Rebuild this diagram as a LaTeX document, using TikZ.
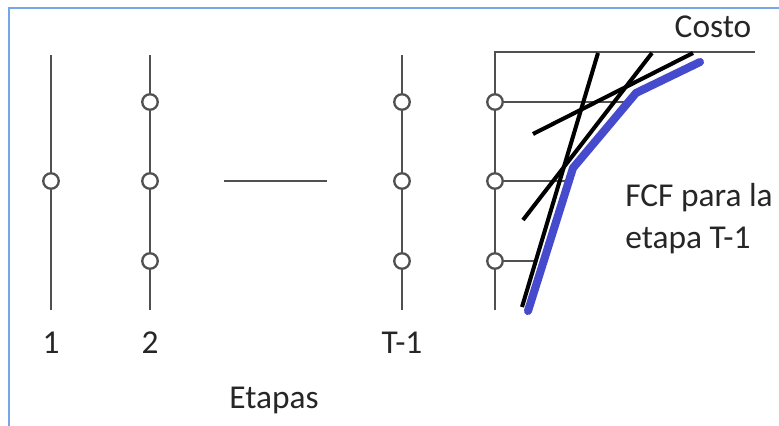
\documentclass[tikz,border=0pt]{standalone}
\usepackage{fontspec}
\setmainfont{Carlito}
\usetikzlibrary{positioning}
\definecolor{framecol}{RGB}{120,165,230}
\definecolor{fcfcol}{RGB}{70,75,205}
\definecolor{axcol}{RGB}{80,80,80}

\begin{document}
\begin{tikzpicture}[x=0.02cm,y=-0.02cm,
  stage/.style={axcol,line width=1.3pt},
  state/.style={circle,draw=axcol,fill=white,line width=1.3pt,inner sep=0pt,minimum size=0.31cm},
  cut/.style={black,line width=2.3pt},
  fcf/.style={fcfcol,line width=4.6pt,line cap=round,line join=round},
  lbl/.style={text=black!85,font=\fontsize{19}{24}\selectfont,inner sep=0pt}]
  \useasboundingbox (0,0) rectangle (779,426);
  \coordinate (fbl) at (9,426); \coordinate (ftl) at (9,8); \coordinate (ftr) at (779,8);
  \draw[framecol,line width=1.3pt] (fbl) -- (ftl) -- (ftr);

  % stage 1
  \coordinate (e1top) at (51,55); \coordinate (e1bot) at (51,310);
  \draw[stage] (e1top) -- (e1bot);
  \node[state] (e1b) at (51,181) {};
  % stages 2 and T-1
  \foreach \name/\x in {e2/150,eT/402}{
    \coordinate (\name top) at (\x,55); \coordinate (\name bot) at (\x,310);
    \draw[stage] (\name top) -- (\name bot);
    \foreach \k/\y in {a/102,b/181,c/261}
      \node[state] (\name\k) at (\x,\y) {};
  }
  % dots between stages
  \coordinate (gapl) at (224,181); \coordinate (gapr) at (327,181);
  \draw[stage] (gapl) -- (gapr);

  % FCF panel
  \coordinate (ax0) at (495,310); \coordinate (ax1) at (495,52); \coordinate (ax2) at (755,52);
  \draw[stage] (ax0) -- (ax1) -- (ax2);
  \coordinate (ha) at (627,102); \coordinate (hb) at (567,181); \coordinate (hc) at (535,261);
  \foreach \k/\y in {a/102,b/181,c/261}{
    \coordinate (fx\k) at (495,\y);
    \draw[stage] (fx\k) -- (h\k);
    \node[state] (f\k) at (fx\k) {};
  }
  \coordinate (p0) at (700,62); \coordinate (p1) at (636,93);
  \coordinate (p2) at (573,168); \coordinate (p3) at (528,311);
  \draw[fcf] (p0) -- (p1) -- (p2) -- (p3);
  \coordinate (c1a) at (598,53); \coordinate (c1b) at (522,307);
  \coordinate (c2a) at (652,53); \coordinate (c2b) at (523,220);
  \coordinate (c3a) at (693,53); \coordinate (c3b) at (533,134);
  \draw[cut] (c1a) -- (c1b);
  \draw[cut] (c2a) -- (c2b);
  \draw[cut] (c3a) -- (c3b);

  % labels
  \node[lbl] (l1) at (51,343) {1};
  \node[lbl] (l2) at (150,343) {2};
  \node[lbl] (lT) at (402,343) {T-1};
  \node[lbl] (etapas) at (274,400) {Etapas};
  \node[lbl] (costo) at (713,27) {Costo};
  \node[lbl,anchor=west,align=left] (fcflbl) at (625,219) {FCF para la\\etapa T-1};
\end{tikzpicture}
\end{document}
